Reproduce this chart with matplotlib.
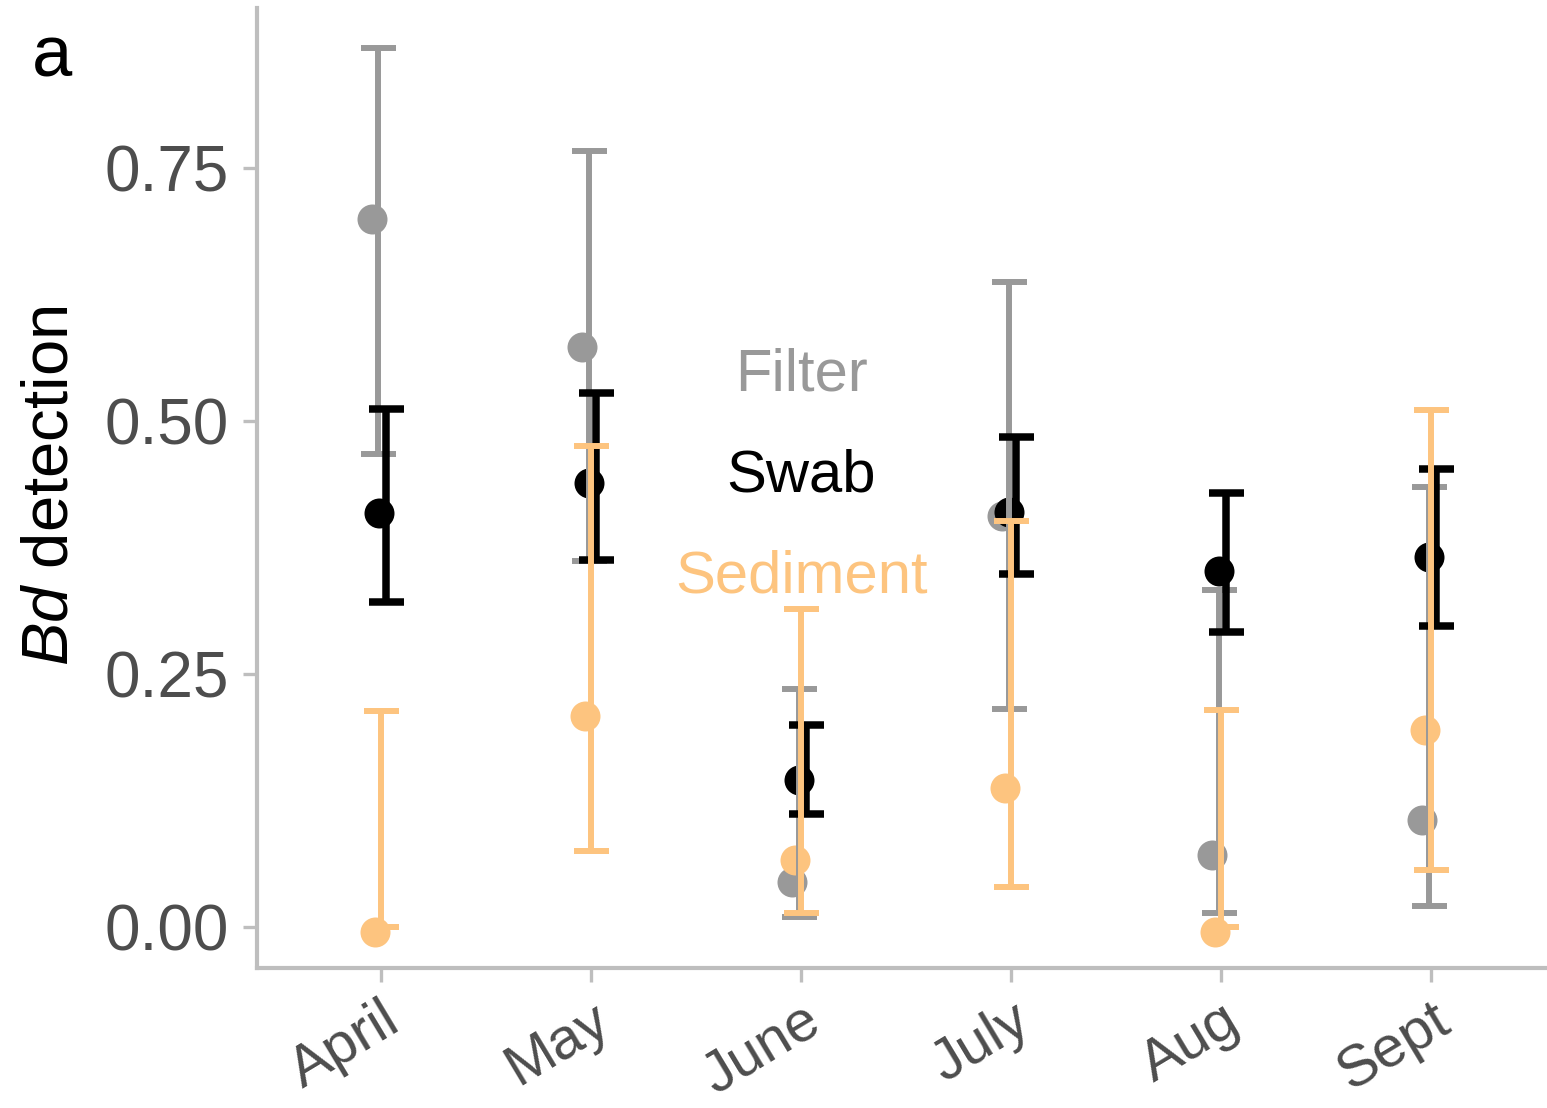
import numpy as np
import matplotlib.pyplot as plt

plt.rcParams['font.family'] = ['Liberation Sans', 'DejaVu Sans']
plt.rcParams['mathtext.fontset'] = 'custom'
plt.rcParams['mathtext.rm'] = 'Liberation Sans'
plt.rcParams['mathtext.it'] = 'Liberation Sans:italic'

months = ["April", "May", "June", "July", "Aug", "Sept"]

# estimated detection probability with lower / upper interval, per sample type
filter_est = [0.700, 0.573, 0.044, 0.406, 0.071, 0.106]
filter_lo = [0.467, 0.362, 0.010, 0.215, 0.014, 0.021]
filter_hi = [0.868, 0.767, 0.235, 0.637, 0.333, 0.435]

swab_est = [0.409, 0.439, 0.145, 0.410, 0.352, 0.366]
swab_lo = [0.321, 0.363, 0.112, 0.349, 0.291, 0.297]
swab_hi = [0.512, 0.528, 0.200, 0.484, 0.429, 0.453]

sed_est = [-0.005, 0.208, 0.066, 0.137, -0.005, 0.195]
sed_lo = [0.000, 0.075, 0.014, 0.040, 0.000, 0.056]
sed_hi = [0.213, 0.475, 0.314, 0.401, 0.214, 0.511]

GREY = "#999999"
ORANGE = "#FDC47F"
AXCOL = "#BEBEBE"
TXT = "#4D4D4D"

fig = plt.figure(figsize=(15.47, 11.08), dpi=100)
ax = fig.add_axes([257/1547, 140/1108, 1 - 257/1547, (968 - 8)/1108])

x = np.arange(1, len(months) + 1)

groups = [
    # name, est, lo, hi, colour, point offset, bar offset, bar lw, z
    ("Filter", filter_est, filter_lo, filter_hi, GREY, -0.043, -0.012, 4.3, 3),
    ("Swab", swab_est, swab_lo, swab_hi, "black", -0.010, 0.024, 5.4, 4),
    ("Sediment", sed_est, sed_lo, sed_hi, ORANGE, -0.029, 0.0, 4.3, 5),
]

for name, est, lo, hi, col, poff, boff, lw, z in groups:
    est = np.asarray(est)
    ax.plot(x + poff, est, 'o', ms=21.6, color=col, mec='none', zorder=2,
            clip_on=False)
for name, est, lo, hi, col, poff, boff, lw, z in groups:
    lo = np.asarray(lo); hi = np.asarray(hi)
    ax.errorbar(x + boff, (lo + hi) / 2, yerr=(hi - lo) / 2, fmt='none',
                ecolor=col, elinewidth=lw, capsize=12.6, capthick=lw,
                zorder=z)

ax.text(3, 0.545, "Filter", color=GREY, fontsize=43, ha='center', va='center')
ax.text(3, 0.446, "Swab", color="black", fontsize=43, ha='center', va='center')
ax.text(3, 0.346, "Sediment", color=ORANGE, fontsize=43, ha='center', va='center')

ax.set_xlim(0.41, 6.55)
ax.set_ylim(-0.0405, 0.908)
ax.set_yticks([0, 0.25, 0.5, 0.75])
ax.set_yticklabels(["0.00", "0.25", "0.50", "0.75"])
ax.set_xticks(x)
ax.set_xticklabels(months, rotation=31, ha='right', va='top',
                   rotation_mode='anchor')

for s in ['top', 'right']:
    ax.spines[s].set_visible(False)
for s in ['left', 'bottom']:
    ax.spines[s].set_color(AXCOL)
    ax.spines[s].set_linewidth(3.0)
ax.tick_params(axis='both', color=AXCOL, width=2.4, length=10,
               labelcolor=TXT, labelsize=46)
ax.tick_params(axis='y', pad=10)
ax.tick_params(axis='x', labelsize=42, pad=8)

fig.text(50/1547, 1 - 486/1108, r"$\it{Bd}$ detection", fontsize=47,
         rotation=90, ha='center', va='center')
fig.text(52/1547, 1 - 58/1108, "a", fontsize=52, ha='center', va='center')

fig.savefig("out.png", dpi=100)
